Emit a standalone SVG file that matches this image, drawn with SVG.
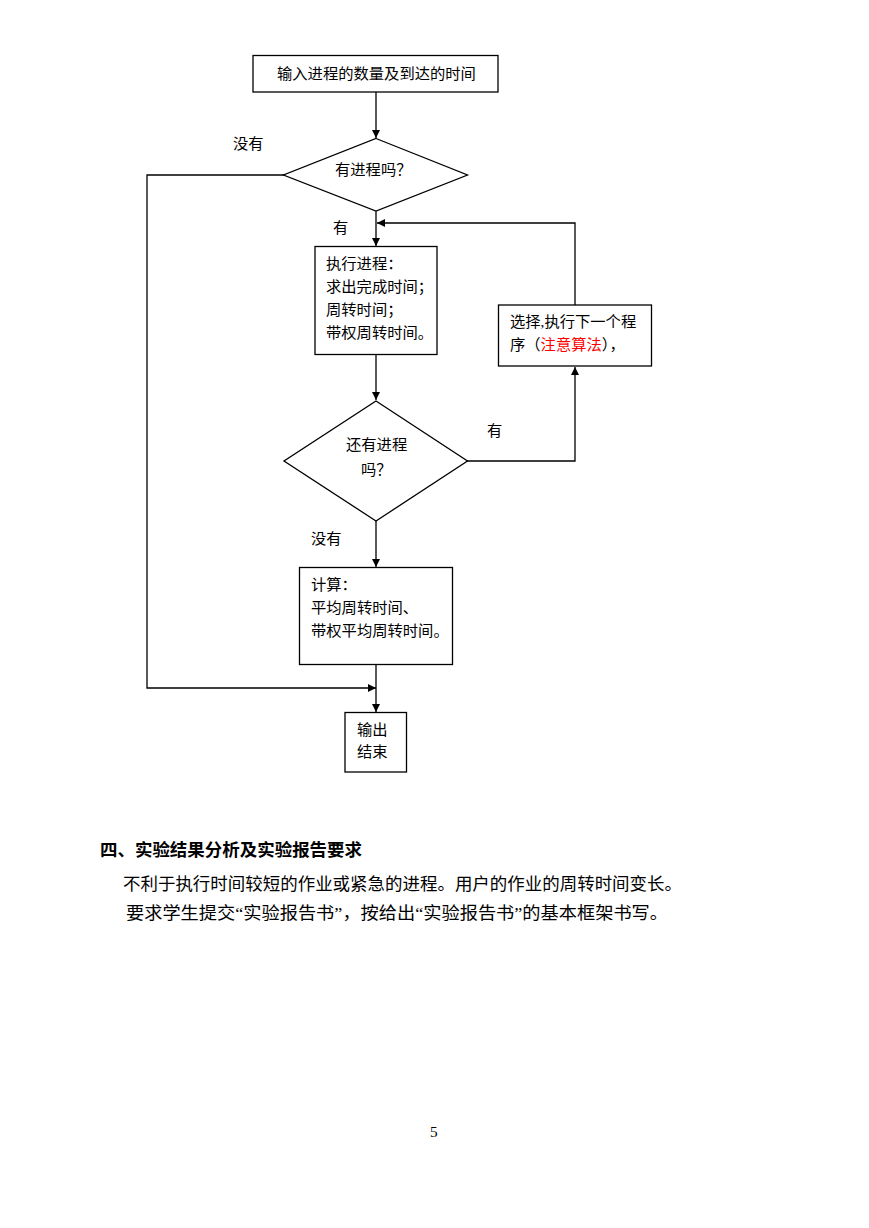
<svg xmlns="http://www.w3.org/2000/svg" width="869" height="1228" viewBox="0 0 869 1228">
<style>
.n{fill:#fff;stroke:#000;stroke-width:1.3}
.c{fill:none;stroke:#000;stroke-width:1.3}
.t{font-family:"Liberation Serif","Noto Sans CJK SC",serif;font-size:15.3px;fill:#000}
.b{font-family:"Liberation Serif","Noto Sans CJK SC",serif;font-size:17.5px;fill:#000}
.red{fill:#ff0000}
</style>
<defs>
<marker id="ar" viewBox="0 0 10 10" refX="10" refY="5" markerWidth="8" markerHeight="8" markerUnits="userSpaceOnUse" orient="auto">
<path d="M0,0 L10,5 L0,10 Z" fill="#000"/>
</marker>
</defs>
<rect width="869" height="1228" fill="#fff"/>
<g id="connectors">
<path class="c" d="M376,92 V138" marker-end="url(#ar)"/>
<path class="c" d="M376,211 V246" marker-end="url(#ar)"/>
<path class="c" d="M575,305 V223 H377" marker-end="url(#ar)"/>
<path class="c" d="M376,354 V400" marker-end="url(#ar)"/>
<path class="c" d="M467,461 H575 V367" marker-end="url(#ar)"/>
<path class="c" d="M376,521 V567" marker-end="url(#ar)"/>
<path class="c" d="M284,175 H147 V688 H376" marker-end="url(#ar)"/>
<path class="c" d="M376,665 V712" marker-end="url(#ar)"/>
<text class="t" x="233" y="149">没有</text>
<text class="t" x="333" y="233">有</text>
<text class="t" x="487" y="436">有</text>
<text class="t" x="311" y="544">没有</text>
</g>
<g id="input">
<rect class="n" x="253" y="55.5" width="245" height="36.5"/>
<text class="t" x="277" y="79">输入进程的数量及到达的时间</text>
</g>
<g id="decision1">
<polygon class="n" points="376,138.5 467.5,175 376,211 283.5,175"/>
<text class="t" x="335" y="175">有进程吗？</text>
</g>
<g id="execute">
<rect class="n" x="315" y="246.5" width="122" height="108"/>
<text class="t" x="326" y="269">执行进程：</text>
<text class="t" x="326" y="292">求出完成时间；</text>
<text class="t" x="326" y="315">周转时间；</text>
<text class="t" x="326" y="338">带权周转时间。</text>
</g>
<g id="select">
<rect class="n" x="498.5" y="305" width="153" height="61"/>
<text class="t" x="510" y="327">选择,执行下一个程</text>
<text class="t" x="510" y="350">序（<tspan class="red">注意算法</tspan>），</text>
</g>
<g id="decision2">
<polygon class="n" points="376,401 467.5,461 376,521 284,461"/>
<text class="t" x="346" y="450">还有进程</text>
<text class="t" x="361" y="475">吗？</text>
</g>
<g id="compute">
<rect class="n" x="299.5" y="567.5" width="153" height="97"/>
<text class="t" x="311" y="590">计算：</text>
<text class="t" x="311" y="613">平均周转时间、</text>
<text class="t" x="311" y="636">带权平均周转时间。</text>
</g>
<g id="output">
<rect class="n" x="345" y="712.5" width="61.5" height="59.5"/>
<text class="t" x="357" y="735">输出</text>
<text class="t" x="357" y="757">结束</text>
</g>
<g id="body">
<text class="b" x="100" y="856" font-weight="bold" textLength="262" lengthAdjust="spacingAndGlyphs">四、实验结果分析及实验报告要求</text>
<text class="b" x="123" y="890" textLength="559" lengthAdjust="spacingAndGlyphs">不利于执行时间较短的作业或紧急的进程。用户的作业的周转时间变长。</text>
<text class="b" x="126" y="919" textLength="542" lengthAdjust="spacingAndGlyphs">要求学生提交“实验报告书”，按给出“实验报告书”的基本框架书写。</text>
<text class="t" x="430" y="1137" font-size="13">5</text>
</g>
</svg>
